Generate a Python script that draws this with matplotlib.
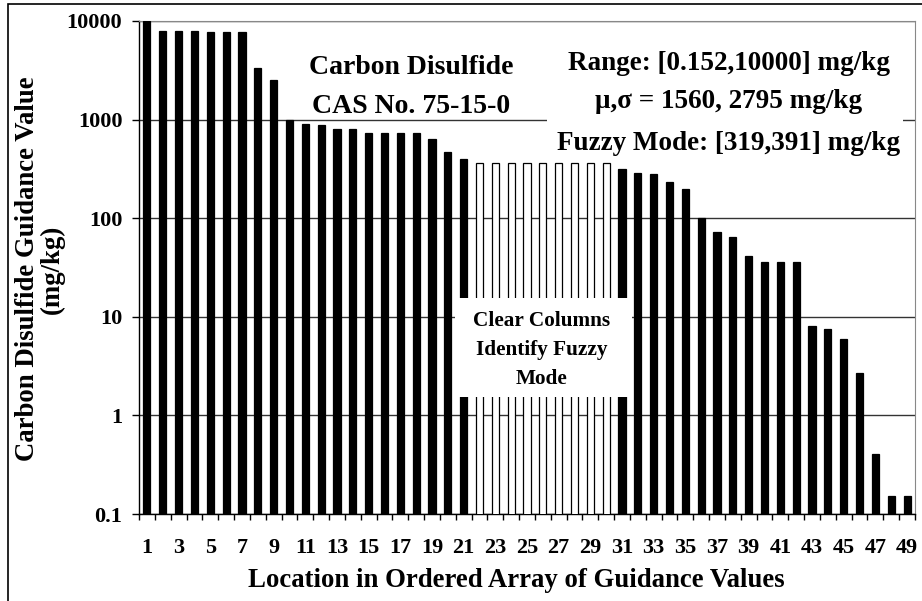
import numpy as np
import matplotlib.pyplot as plt
from matplotlib.patches import Rectangle

# guidance values in ordered array (mg/kg)
location = np.arange(1, 50)
guidance = np.array([
    10000, 8000, 8000, 8000, 7700, 7700, 7700, 3300, 2500, 1000,
    910, 880, 800, 800, 730, 730, 730, 730, 630, 470,
    400, 360, 360, 360, 360, 360, 360, 360, 360, 360,
    315, 287, 279, 234, 200, 100, 72, 65, 41, 36,
    36, 36, 8.1, 7.6, 6.0, 2.7, 0.41, 0.152, 0.152,
])
fuzzy_mode = list(range(22, 31))   # clear columns

ytick_vals = [0.1, 1, 10, 100, 1000, 10000]
ytick_labels = ['0.1', '1', '10', '100', '1000', '10000']

title_lines = ['Carbon Disulfide', 'CAS No. 75-15-0']
stats_lines = ['Range: [0.152,10000] mg/kg',
               '\u03bc,\u03c3 = 1560, 2795 mg/kg',
               'Fuzzy Mode: [319,391] mg/kg']
note_lines = ['Clear Columns', 'Identify Fuzzy', 'Mode']

plt.rcParams['font.family'] = ['Liberation Serif', 'DejaVu Serif']
plt.rcParams['font.weight'] = 'bold'

W, H = 922, 601
fig = plt.figure(figsize=(W / 100, H / 100), dpi=100)


def fx(px):
    return px / W


def fy(py):
    return 1 - py / H


ax = fig.add_axes([fx(139), fy(514), fx(915) - fx(139), fy(21) - fy(514)])

colors = ['white' if n in fuzzy_mode else 'black' for n in location]
ax.bar(location, guidance, width=0.45, color=colors, edgecolor='black',
       linewidth=0.9, zorder=3)

ax.set_yscale('log')
ax.set_ylim(0.1, 10000)
ax.set_xlim(0.5, 49.5)
ax.set_yticks(ytick_vals)
ax.set_yticklabels(ytick_labels)
ax.minorticks_off()
ax.yaxis.grid(True, color='#333333', linewidth=1, zorder=0)
ax.set_axisbelow(True)

ax.set_xticks(location[::2])
ax.set_xticklabels([str(n) for n in location[::2]])
ax.set_xticks(np.arange(0.5, 50, 1), minor=True)
ax.tick_params(axis='x', which='major', length=0, pad=17, labelsize=16)
ax.tick_params(axis='x', which='minor', length=4.5, width=1, direction='out')
ax.tick_params(axis='y', which='major', length=5, width=1, pad=7, labelsize=16)

for side in ['top', 'right']:
    ax.spines[side].set_color('#888888')
for side in ['left', 'bottom']:
    ax.spines[side].set_color('black')
    ax.spines[side].set_linewidth(1)

fig.text(fx(516), fy(587), 'Location in Ordered Array of Guidance Values',
         ha='center', va='baseline', fontsize=19.3, fontweight='bold')
fig.text(fx(40), fy(269), 'Carbon Disulfide Guidance Value\n(mg/kg)',
         rotation=90, ha='center', va='center', multialignment='center',
         fontsize=19.3, fontweight='bold', linespacing=0.95)

# white boxes behind the annotations
fig.patches.append(Rectangle((fx(547), fy(160)), fx(903) - fx(547), fy(30) - fy(160),
                             transform=fig.transFigure, facecolor='white',
                             edgecolor='none', zorder=1))
fig.patches.append(Rectangle((fx(455), fy(397)), fx(632) - fx(455), fy(298) - fy(397),
                             transform=fig.transFigure, facecolor='white',
                             edgecolor='none', zorder=1))

for line, base in zip(title_lines, [74, 113]):
    fig.text(fx(411), fy(base), line, ha='center', va='baseline',
             fontsize=20, fontweight='bold', zorder=3)
for line, base in zip(stats_lines, [70, 108, 150]):
    fig.text(fx(729), fy(base), line, ha='center', va='baseline',
             fontsize=19.5, fontweight='bold', zorder=3)
for line, base in zip(note_lines, [326, 355, 384]):
    fig.text(fx(542), fy(base), line, ha='center', va='baseline',
             fontsize=15.3, fontweight='bold', zorder=3)

# outer chart border
fig.patches.append(Rectangle((fx(8), fy(610)), 1, fy(4) - fy(610),
                             transform=fig.transFigure, fill=False,
                             edgecolor='black', linewidth=1.2, zorder=0))

fig.savefig('out.png', dpi=100)
